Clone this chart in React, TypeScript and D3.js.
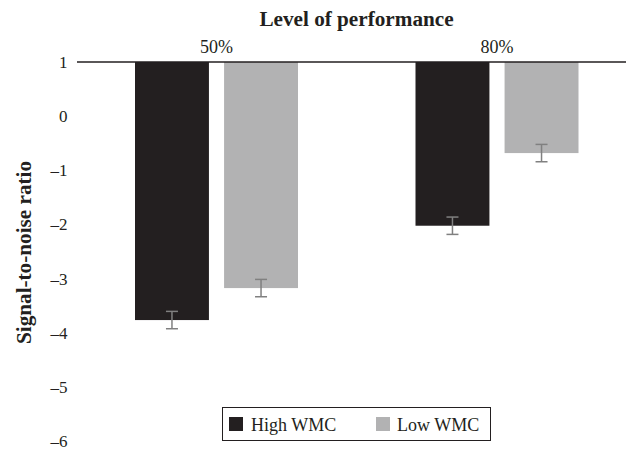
import React from "react";
import * as d3 from "d3";

const levels = ["50%", "80%"];
const groups = ["High WMC", "Low WMC"];
const highValues = [-3.76, -2.02];
const lowValues = [-3.17, -0.68];
const highErr = [0.16, 0.16];
const lowErr = [0.16, 0.16];
const yTicks = [1, 0, -1, -2, -3, -4, -5, -6];
const colors = ["#231f20", "#b2b2b3"];

const W = 626, H = 450;
const FONT = "Liberation Serif";

export default function App() {
  const y = d3.scaleLinear().domain([1, -6]).range([62, 441.5]);
  const x0 = d3.scaleBand<string>().domain(levels).range([76.25, 637.25]).paddingInner(0).paddingOuter(0);
  const x1 = d3.scaleBand<string>().domain(groups).range([0, 163]).paddingInner(0.17);
  const groupOffset = (x0.bandwidth() - 163) / 2;
  const series = [
    { name: groups[0], values: highValues, errs: highErr, color: colors[0] },
    { name: groups[1], values: lowValues, errs: lowErr, color: colors[1] },
  ];
  const fmt = (v: number) => (v < 0 ? "\u2013" + Math.abs(v) : String(v));
  return (
    <svg width={W} height={H} style={{ position: "absolute", left: 0, top: 0, fontFamily: FONT }}>
      <rect width={W} height={H} fill="#fff" />
      <text x={356.5} y={26} textAnchor="middle" fontWeight="bold" fontSize={21.2} fill="#231f20">Level of performance</text>
      <text transform={`translate(30.5,${252.5}) rotate(-90)`} textAnchor="middle" fontWeight="bold" fontSize={21.2} fill="#231f20">Signal-to-noise ratio</text>
      {yTicks.map((t) => (
        <text key={t} x={67.5} y={y(t)} dy="0.34em" textAnchor="end" fontSize={17} fill="#231f20">{fmt(t)}</text>
      ))}
      {levels.map((lv) => (
        <text key={lv} x={(x0(lv) as number) + x0.bandwidth() / 2} y={53} textAnchor="middle" fontSize={18} fill="#231f20">{lv}</text>
      ))}
      {series.map((s) =>
        levels.map((lv, i) => {
          const bx = (x0(lv) as number) + groupOffset + (x1(s.name) as number);
          const bw = x1.bandwidth();
          const v = s.values[i];
          const cx = bx + bw / 2;
          return (
            <g key={s.name + lv}>
              <rect x={bx} y={y(1)} width={bw} height={y(v) - y(1)} fill={s.color} />
              <line x1={cx} x2={cx} y1={y(v + s.errs[i])} y2={y(v - s.errs[i])} stroke="#808080" strokeWidth={1.5} />
              <line x1={cx - 6} x2={cx + 6} y1={y(v + s.errs[i])} y2={y(v + s.errs[i])} stroke="#808080" strokeWidth={1.5} />
              <line x1={cx - 6} x2={cx + 6} y1={y(v - s.errs[i])} y2={y(v - s.errs[i])} stroke="#808080" strokeWidth={1.5} />
            </g>
          );
        })
      )}
      <line x1={77} x2={626} y1={y(1)} y2={y(1)} stroke="#231f20" strokeWidth={1.5} />
      <g>
        <rect x={222.5} y={407.5} width={268} height={33} fill="#fff" stroke="#231f20" strokeWidth={1} />
        <rect x={229} y={417} width={14} height={14} fill={colors[0]} />
        <text x={251} y={425} dy="0.34em" fontSize={18} fill="#231f20">{groups[0]}</text>
        <rect x={376} y={417} width={14} height={14} fill={colors[1]} />
        <text x={397} y={425} dy="0.34em" fontSize={18} fill="#231f20">{groups[1]}</text>
      </g>
    </svg>
  );
}
